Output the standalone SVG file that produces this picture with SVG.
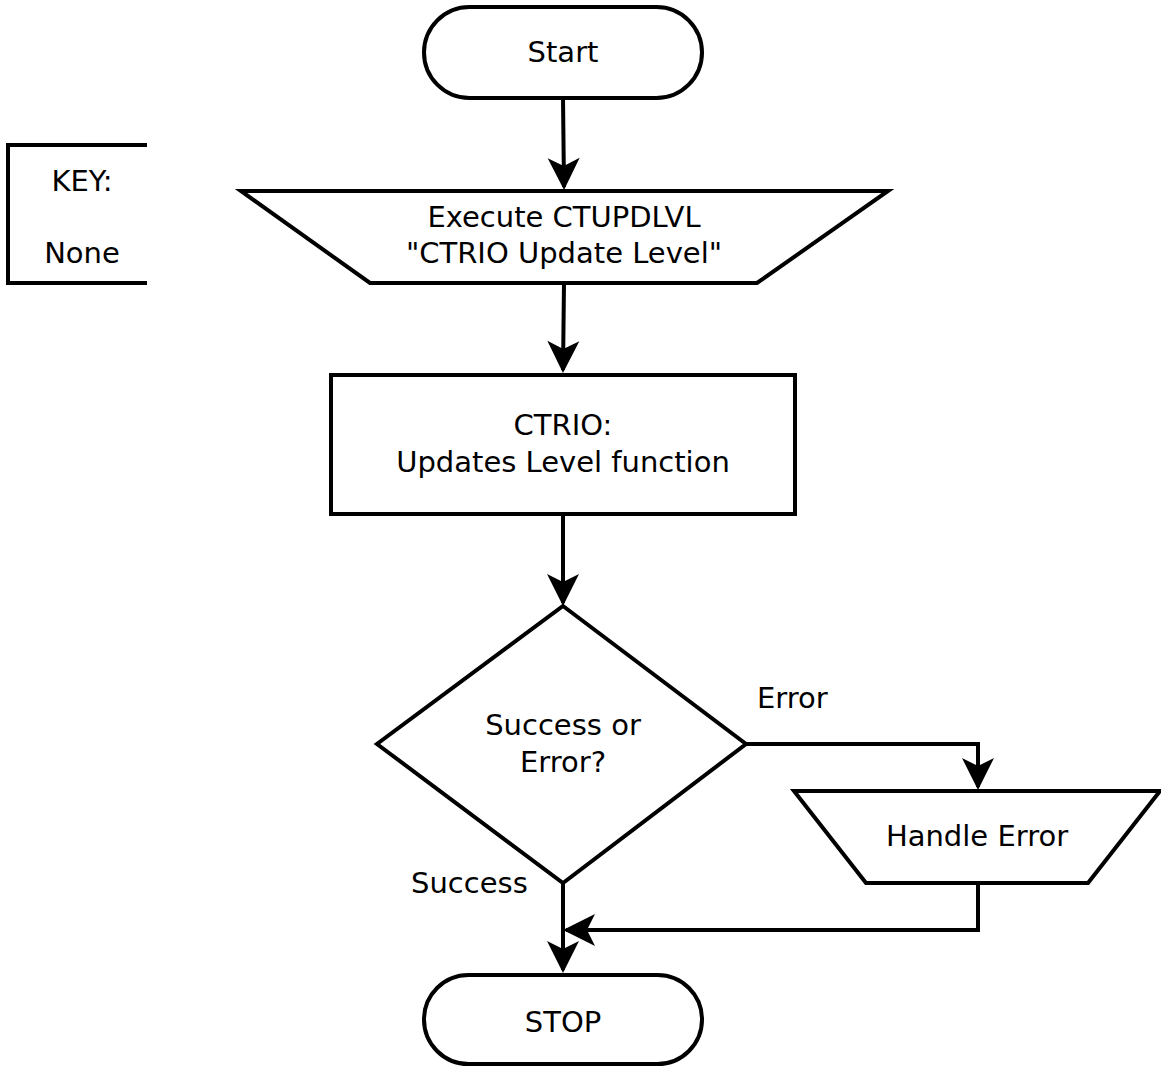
<svg xmlns="http://www.w3.org/2000/svg" width="1161" height="1067" viewBox="0 0 1161 1067">
  <style>
    .shape { fill: #ffffff; stroke: #000000; stroke-width: 4; stroke-linejoin: miter; }
    .wire { fill: none; stroke: #000000; stroke-width: 4; }
    .label { font-family: "DejaVu Sans", "Liberation Sans", sans-serif; font-size: 29px; fill: #000000; text-anchor: middle; }
    .tag { font-family: "DejaVu Sans", "Liberation Sans", sans-serif; font-size: 29px; fill: #000000; }
  </style>
  <defs>
    <!-- notched arrowhead, tip 3px beyond the path end -->
    <marker id="arrow" markerUnits="userSpaceOnUse" markerWidth="40" markerHeight="40" viewBox="-34 -20 40 40" refX="0" refY="0" orient="auto" overflow="visible">
      <path d="M3,0 L-29,-16 L-21,0 L-29,16 Z" fill="#000000"/>
    </marker>
  </defs>
  <rect width="1161" height="1067" fill="#ffffff"/>

  <!-- legend box (open on the right) -->
  <g id="key">
    <path class="wire" d="M147,145 H8 V283 H147"/>
    <text class="label" x="82" y="191">KEY:</text>
    <text class="label" x="82" y="263">None</text>
  </g>

  <g id="start">
    <rect class="shape" x="424" y="7" width="278" height="91" rx="45.5" ry="45.5"/>
    <text class="label" x="563" y="62">Start</text>
  </g>

  <g id="execute">
    <path class="shape" d="M241,191 H888 L757,283 H370 Z"/>
    <text class="label" x="564" y="227">Execute CTUPDLVL</text>
    <text class="label" x="564" y="263">"CTRIO Update Level"</text>
  </g>

  <g id="ctrio">
    <rect class="shape" x="331" y="375" width="464" height="139"/>
    <text class="label" x="563" y="435">CTRIO:</text>
    <text class="label" x="563" y="472">Updates Level function</text>
  </g>

  <g id="decision">
    <path class="shape" d="M563,606 L746,744 L563,883 L377,744 Z"/>
    <text class="label" x="563" y="735">Success or</text>
    <text class="label" x="563" y="772">Error?</text>
  </g>

  <g id="handle-error">
    <path class="shape" d="M794,791 H1160 L1088,883 H866 Z"/>
    <text class="label" x="977" y="846">Handle Error</text>
  </g>

  <g id="stop">
    <rect class="shape" x="424" y="975" width="278" height="89" rx="44.5" ry="44.5"/>
    <text class="label" x="563" y="1032">STOP</text>
  </g>

  <g id="connectors">
    <path class="wire" d="M563,98 L564,187" marker-end="url(#arrow)"/>
    <path class="wire" d="M564,283 L563,370" marker-end="url(#arrow)"/>
    <path class="wire" d="M563,514 V603" marker-end="url(#arrow)"/>
    <path class="wire" d="M746,744 H978 V787" marker-end="url(#arrow)"/>
    <path class="wire" d="M563,883 V970" marker-end="url(#arrow)"/>
    <path class="wire" d="M978,883 V930 H566" marker-end="url(#arrow)"/>
    <text class="tag" x="757" y="708">Error</text>
    <text class="tag" x="411" y="893">Success</text>
  </g>
</svg>
